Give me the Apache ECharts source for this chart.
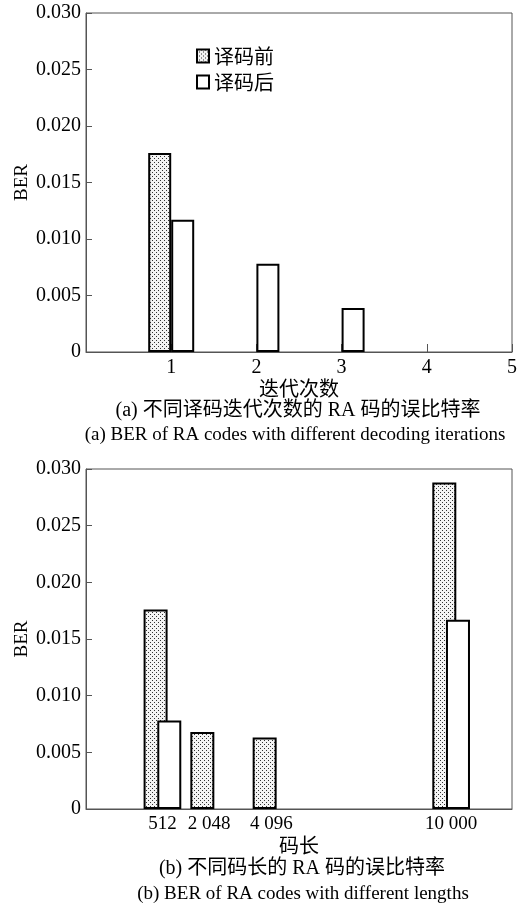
<!DOCTYPE html>
<html><head><meta charset="utf-8">
<script src="https://cdn.jsdelivr.net/npm/echarts@6/dist/echarts.min.js"></script>
<style>html,body{margin:0;padding:0;background:#fff}#c{width:528px;height:909px}</style>
</head><body><div id="c"></div>
<script>
// ---- data ----
const seriesNames = ['译码前', '译码后'];
const iterations = [1, 2, 3, 4];
const iterTickLabels = ['1', '2', '3', '4', '5'];
const iterBefore = [0.0176, 0, 0, 0];
const iterAfter = [0.0117, 0.0078, 0.0039, 0];
const codeLengths = [512, 2048, 4096, 10000];
const codeLengthLabels = ['512', '2 048', '4 096', '10 000'];
const lenBefore = [0.0176, 0.0068, 0.0063, 0.0288];
const lenAfter = [0.0078, 0, 0, 0.0167];
const titleA = ['(a) 不同译码迭代次数的 RA 码的误比特率', '(a) BER of RA codes with different decoding iterations'];
const titleB = ['(b) 不同码长的 RA 码的误比特率', '(b) BER of RA codes with different lengths'];
const xNameA = '迭代次数';
const xNameB = '码长';
const yName = 'BER';

// ---- styles ----
const SERIF = '"Liberation Serif", "Noto Sans CJK SC"';
const CJK = '"Noto Sans CJK SC"';
const AX = '#555';
const pc = document.createElement('canvas'); pc.width = 4; pc.height = 4;
const g = pc.getContext('2d');
g.fillStyle = '#f4f4f4'; g.fillRect(0, 0, 4, 4);
g.fillStyle = '#333'; g.fillRect(0, 0, 1, 1); g.fillRect(2, 2, 1, 1);
const dotted = { image: pc, repeat: 'repeat' };

function pairs(xs, ys) { return xs.map((x, i) => [x, ys[i]]).filter(d => d[1] > 0); }

function yAxis(idx) {
  return {
    type: 'value', gridIndex: idx, min: 0, max: 0.03, interval: 0.005,
    axisLine: { show: true, onZero: false, lineStyle: { color: AX, width: 1 } },
    axisTick: { show: true, inside: true, length: 6, lineStyle: { color: AX } },
    splitLine: { show: false },
    axisLabel: { formatter: v => v === 0 ? '0' : v.toFixed(3), color: '#000', fontSize: 20, fontFamily: SERIF, margin: 5 },
    name: yName, nameLocation: 'middle', nameGap: 54, nameMoveOverlap: false,
    nameTextStyle: { fontSize: 19, fontFamily: SERIF, color: '#000' }
  };
}
const barStyle = (c) => ({ color: c, borderColor: '#000', borderWidth: 2 });

const option = {
  animation: false,
  backgroundColor: '#fff',
  grid: [
    { left: 86, right: 16, top: 13, height: 339, show: true, borderColor: AX, borderWidth: 1, outerBoundsMode: 'none', containLabel: false },
    { left: 86, right: 16, top: 469, height: 340, show: true, borderColor: AX, borderWidth: 1, outerBoundsMode: 'none', containLabel: false }
  ],
  legend: {
    data: seriesNames, orient: 'vertical', left: 191, top: 41, itemWidth: 12, itemHeight: 13, itemGap: 6,
    icon: 'rect', selectedMode: false,
    textStyle: { fontSize: 20, fontFamily: CJK, color: '#000' }
  },
  xAxis: [
    {
      type: 'value', gridIndex: 0, min: 0, max: 5, interval: 1,
      axisLine: { onZero: false, lineStyle: { color: AX, width: 1 } },
      axisTick: { inside: true, length: 8, lineStyle: { color: AX } },
      splitLine: { show: false },
      axisLabel: { formatter: v => v === 0 ? '' : iterTickLabels[v - 1], color: '#000', fontSize: 20, fontFamily: SERIF, margin: 6 },
      name: xNameA, nameLocation: 'middle', nameGap: 26, nameMoveOverlap: false,
      nameTextStyle: { fontSize: 20, fontFamily: CJK, color: '#000' }
    },
    {
      type: 'value', gridIndex: 1, min: -2000, max: 12000,
      axisLine: { onZero: false, lineStyle: { color: AX, width: 1 } },
      axisTick: { inside: true, length: 8, customValues: codeLengths, lineStyle: { color: AX } },
      splitLine: { show: false },
      axisLabel: { customValues: codeLengths, formatter: v => codeLengthLabels[codeLengths.indexOf(v)], color: '#000', fontSize: 19, fontFamily: SERIF, margin: 6 },
      name: xNameB, nameLocation: 'middle', nameGap: 26, nameMoveOverlap: false,
      nameTextStyle: { fontSize: 20, fontFamily: CJK, color: '#000' }
    }
  ],
  yAxis: [yAxis(0), yAxis(1)],
  series: [
    { name: seriesNames[0], type: 'bar', xAxisIndex: 0, yAxisIndex: 0, barWidth: 23, barGap: '0%', data: pairs(iterations, iterBefore), itemStyle: barStyle(dotted) },
    { name: seriesNames[1], type: 'bar', xAxisIndex: 0, yAxisIndex: 0, barWidth: 23, barGap: '0%', data: pairs(iterations, iterAfter), itemStyle: barStyle('#fff') },
    { name: seriesNames[0], type: 'bar', xAxisIndex: 1, yAxisIndex: 1, barWidth: 24, barGap: '-43%', data: pairs(codeLengths, lenBefore), itemStyle: barStyle(dotted) },
    { name: seriesNames[1], type: 'bar', xAxisIndex: 1, yAxisIndex: 1, barWidth: 24, barGap: '-43%', data: pairs(codeLengths, lenAfter), itemStyle: barStyle('#fff') }
  ],
  graphic: [
    { type: 'text', x: 298, y: 411, style: { text: titleA[0], fontSize: 20, fontFamily: SERIF, fill: '#000', align: 'center', verticalAlign: 'middle' } },
    { type: 'text', x: 295, y: 435, style: { text: titleA[1], fontSize: 19, fontFamily: SERIF, fill: '#000', align: 'center', verticalAlign: 'middle' } },
    { type: 'text', x: 302, y: 869, style: { text: titleB[0], fontSize: 20, fontFamily: SERIF, fill: '#000', align: 'center', verticalAlign: 'middle' } },
    { type: 'text', x: 303, y: 894, style: { text: titleB[1], fontSize: 19, fontFamily: SERIF, fill: '#000', align: 'center', verticalAlign: 'middle' } }
  ]
};
const chart = echarts.init(document.getElementById('c'), null, { renderer: 'canvas' });
chart.setOption(option);
</script></body></html>
